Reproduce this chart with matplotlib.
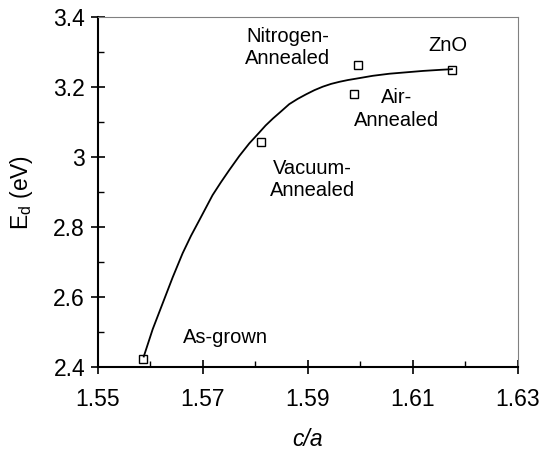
import matplotlib
matplotlib.use("Agg")
import matplotlib.pyplot as plt

plt.rcParams['font.family'] = ['Liberation Sans', 'DejaVu Sans']
plt.rcParams['mathtext.fontset'] = 'custom'
plt.rcParams['mathtext.rm'] = 'Liberation Sans'
plt.rcParams['mathtext.it'] = 'Liberation Sans:italic'

# measured samples
ca_ratio = [1.5586, 1.5811, 1.5989, 1.5996, 1.6175]
ed_values = [2.423, 3.042, 3.180, 3.262, 3.249]

# fitted trend line
fit_x = [1.5588, 1.5605, 1.5624, 1.5643, 1.5662, 1.5678, 1.5694, 1.5719,
         1.5735, 1.5751, 1.5770, 1.5789, 1.5808, 1.5820, 1.5834, 1.5850,
         1.5865, 1.5881, 1.5897, 1.5913, 1.5929, 1.5945, 1.5961, 1.5977,
         1.5993, 1.6024, 1.6056, 1.6088, 1.6120, 1.6152, 1.6175]
fit_y = [2.430, 2.508, 2.582, 2.656, 2.725, 2.775, 2.820, 2.891,
         2.928, 2.963, 3.003, 3.039, 3.070, 3.090, 3.110, 3.131,
         3.151, 3.166, 3.179, 3.191, 3.201, 3.209, 3.215, 3.220,
         3.224, 3.232, 3.238, 3.242, 3.246, 3.249, 3.251]

x_major = [1.55, 1.57, 1.59, 1.61, 1.63]
x_minor = [1.56, 1.58, 1.60, 1.62]
x_labels = ['1.55', '1.57', '1.59', '1.61', '1.63']
y_major = [2.4, 2.6, 2.8, 3.0, 3.2, 3.4]
y_minor = [2.5, 2.7, 2.9, 3.1, 3.3]
y_labels = ['2.4', '2.6', '2.8', '3', '3.2', '3.4']

labels = [("Nitrogen-\nAnnealed", 1.5862, 3.313),
          ("ZnO", 1.6168, 3.32),
          ("Air-\nAnnealed", 1.6070, 3.137),
          ("Vacuum-\nAnnealed", 1.5910, 2.936),
          ("As-grown", 1.5744, 2.485)]

fig = plt.figure(figsize=(5.42, 4.5), dpi=100)
ax = fig.add_axes([0.180, 0.1844, 0.775, 0.7778])

ax.plot(fit_x, fit_y, color='black', lw=1.3)
ax.plot(ca_ratio, ed_values, 's', ms=6, mfc='none', mec='black', mew=1.0)

for txt, x, y in labels:
    ax.text(x, y, txt, fontsize=14.5, ha='center', va='center',
            multialignment='center', linespacing=1.25)

ax.set_xlim(1.55, 1.63)
ax.set_ylim(2.4, 3.4)
ax.set_xticks(x_major)
ax.set_xticklabels(x_labels)
ax.set_xticks(x_minor, minor=True)
ax.set_yticks(y_major)
ax.set_yticklabels(y_labels)
ax.set_yticks(y_minor, minor=True)

ax.tick_params(which='major', direction='inout', length=10, width=1.2, labelsize=16.5)
ax.tick_params(axis='x', which='major', pad=10)
ax.tick_params(axis='y', which='major', pad=4)
ax.tick_params(which='minor', direction='in', length=4.5, width=1.0)

for side in ['left', 'bottom']:
    ax.spines[side].set_linewidth(1.5)
for side in ['top', 'right']:
    ax.spines[side].set_color('#808080')
    ax.spines[side].set_linewidth(0.8)

ax.set_xlabel('c/a', fontsize=16.5, style='italic', labelpad=12)
ax.set_ylabel(r'E$_\mathrm{d}$ (eV)', fontsize=16.5, labelpad=13)

fig.savefig('out.png', dpi=100)
